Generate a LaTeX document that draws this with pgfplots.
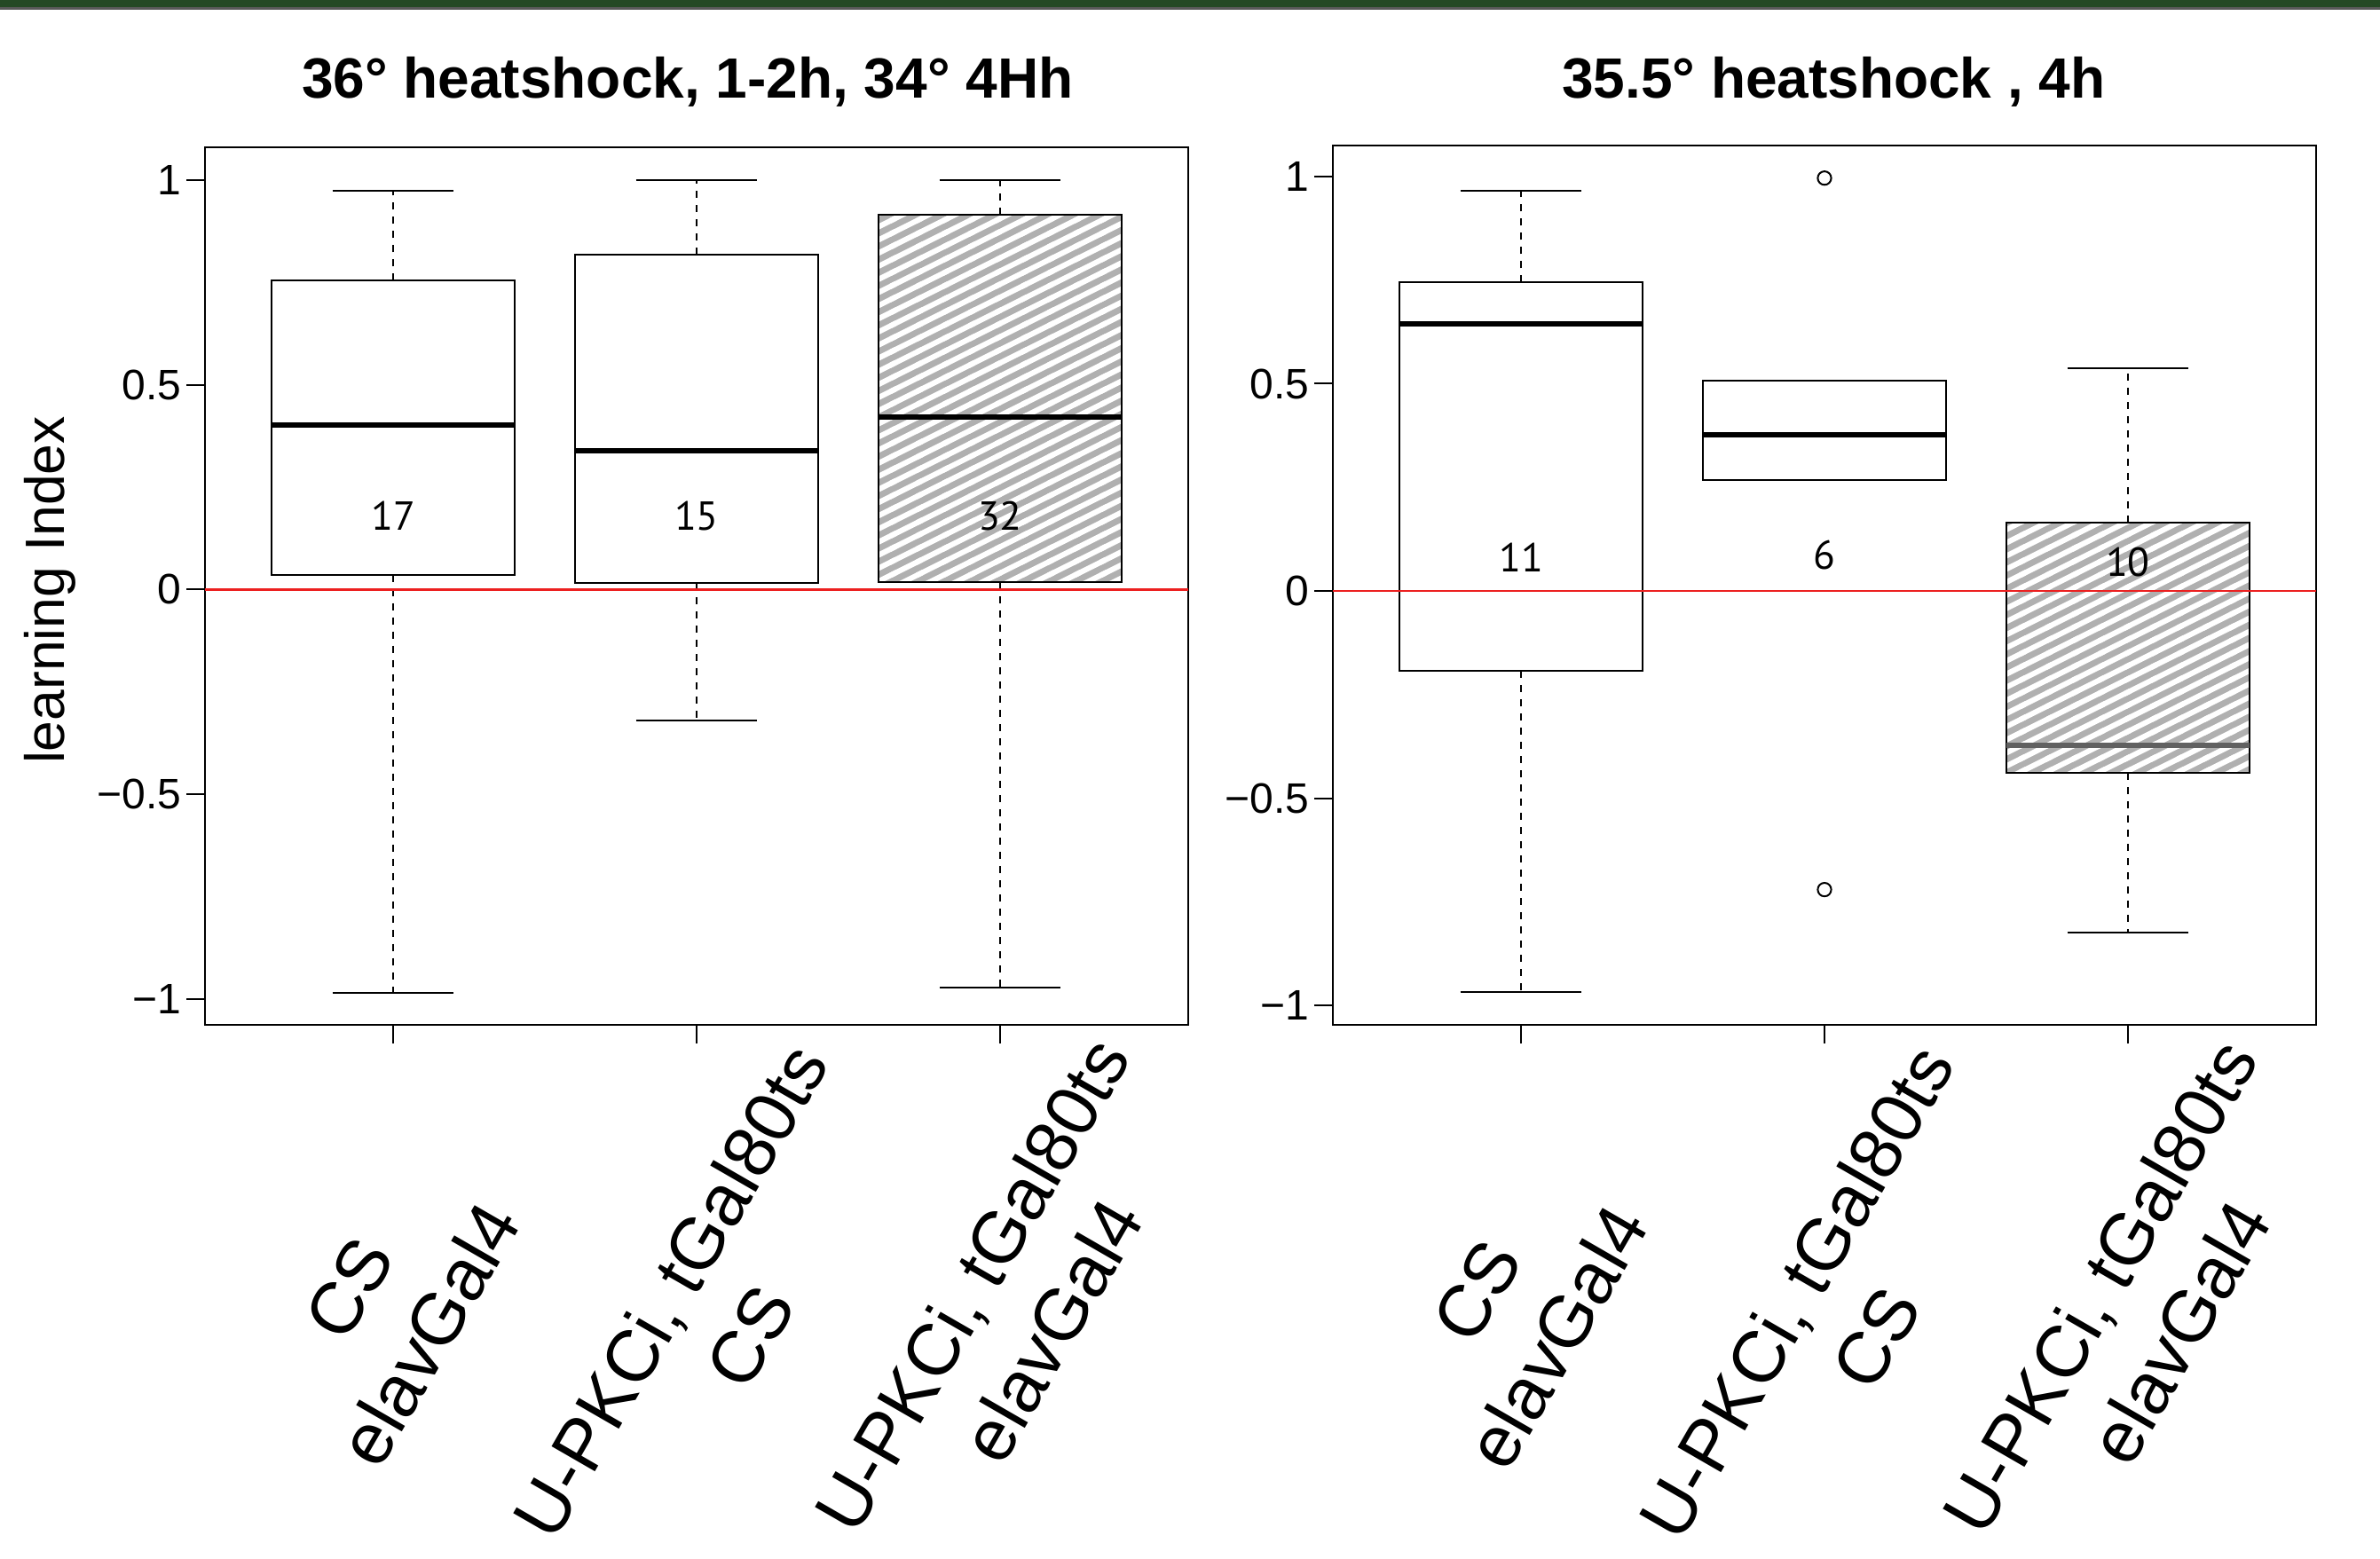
\documentclass[border=0pt]{standalone}
\usepackage{fontspec}
\setmainfont{Liberation Sans}
\newfontfamily\numfont{PT Sans}
\usepackage{pgfplots}
\pgfplotsset{compat=1.18}
\usepgfplotslibrary{statistics}
\usetikzlibrary{patterns}
\definecolor{bandgreen}{RGB}{36,73,36}
\definecolor{bandshadow}{RGB}{90,90,90}
\definecolor{hatchgray}{RGB}{176,176,176}
\definecolor{zeroline}{RGB}{236,32,32}

\pgfdeclarepatternformonly{shallowlines}{\pgfqpoint{-1pt}{-1pt}}{\pgfqpoint{8.4pt}{4.7pt}}{\pgfqpoint{7.4pt}{3.7pt}}{%
  \pgfsetlinewidth{1.5pt}%
  \pgfpathmoveto{\pgfqpoint{-2pt}{-1pt}}%
  \pgfpathlineto{\pgfqpoint{9.4pt}{4.7pt}}%
  \pgfusepath{stroke}%
}

\tikzset{
  xlab/.style={rotate=60, align=center, font=\fontsize{20.5}{26}\selectfont, inner sep=0pt},
  nlab/.style={font=\numfont\fontsize{11.4}{13}\selectfont},
}
\pgfplotsset{
  boxplot/draw/lower whisker/.code={%
    \draw[dash pattern=on 2pt off 2pt] (boxplot cs:\pgfplotsboxplotvalue{lower quartile}) -- (boxplot cs:\pgfplotsboxplotvalue{lower whisker});
    \draw[solid] (boxplot whisker cs:\pgfplotsboxplotvalue{lower whisker},0) -- (boxplot whisker cs:\pgfplotsboxplotvalue{lower whisker},1);
  },
  boxplot/draw/upper whisker/.code={%
    \draw[dash pattern=on 2pt off 2pt] (boxplot cs:\pgfplotsboxplotvalue{upper quartile}) -- (boxplot cs:\pgfplotsboxplotvalue{upper whisker});
    \draw[solid] (boxplot whisker cs:\pgfplotsboxplotvalue{upper whisker},0) -- (boxplot whisker cs:\pgfplotsboxplotvalue{upper whisker},1);
  },
  myaxis/.style={
    scale only axis, width=277pt, anchor=south west,
    xmin=0.38, xmax=3.62,
    xtick={1,2,3}, xticklabels={},
    ytick={-1,-0.5,0,0.5,1}, yticklabels={−1,−0.5,0,0.5,1},
    tick align=outside, tick pos=left, major tick length=5.2pt,
    tick style={black, line width=0.5pt},
    axis line style={line width=0.5pt},
    yticklabel style={font=\fontsize{12}{14}\selectfont, xshift=2pt},
    clip=false,
    boxplot/draw direction=y,
    boxplot/box extend=0.8, boxplot/whisker extend=0.4,
  },
  plainbox/.style={black, line width=0.5pt, mark=o, mark size=1.9pt,
    mark options={solid, line width=0.5pt},
    boxplot/every median/.style={line width=1.5pt}},
  hatchbox/.style={plainbox,
    boxplot/every box/.style={draw=black, preaction={fill=hatchgray},
      pattern=shallowlines, pattern color=white}},
}

\begin{document}
\begin{tikzpicture}
\path[use as bounding box] (0,0) rectangle (670.5pt,439.25pt);
\fill[bandshadow] (0,436.5pt) rectangle (670.5pt,439.25pt);
\fill[bandgreen] (0,437.2pt) rectangle (670.5pt,439.25pt);

\node[font=\bfseries\fontsize{16}{19}\selectfont, anchor=base] at (193.7pt,411.5pt) {36° heatshock, 1-2h, 34° 4Hh};
\node[font=\bfseries\fontsize{16}{19}\selectfont, anchor=base] at (516.6pt,411.5pt) {35.5° heatshock , 4h};
\node[rotate=90, font=\fontsize{15.6}{18}\selectfont] at (14pt,273pt) {learning Index};

% ---------------- left panel ----------------
\begin{axis}[myaxis, at={(57.75pt,150.4pt)}, height=247.25pt, ymin=-1.064, ymax=1.079]
\addplot[plainbox, boxplot prepared={draw position=1, lower whisker=-0.985, lower quartile=0.036,
  median=0.401, upper quartile=0.754, upper whisker=0.973}] coordinates {};
\addplot[plainbox, boxplot prepared={draw position=2, lower whisker=-0.320, lower quartile=0.016,
  median=0.339, upper quartile=0.818, upper whisker=1.0}] coordinates {};
\addplot[hatchbox, boxplot prepared={draw position=3, lower whisker=-0.973, lower quartile=0.018,
  median=0.422, upper quartile=0.916, upper whisker=1.0}] coordinates {};
\addplot[zeroline, line width=0.6pt] coordinates {(0.38,0) (3.62,0)};
\node[nlab] at (axis cs:1,0.18) {17};
\node[nlab] at (axis cs:2,0.18) {15};
\node[nlab] at (axis cs:3,0.18) {32};
\node[xlab] at ([xshift=-1pt,yshift=-80.7pt]axis cs:1,-1.064) {CS\\elavGal4};
\node[xlab] at ([xshift=3.7pt,yshift=-81.2pt]axis cs:2,-1.064) {U-PKCi, tGal80ts\\CS};
\node[xlab] at ([xshift=3.2pt,yshift=-79.5pt]axis cs:3,-1.064) {U-PKCi, tGal80ts\\elavGal4};
\end{axis}

% ---------------- right panel ----------------
\begin{axis}[myaxis, at={(375.5pt,150.4pt)}, height=247.9pt, ymin=-1.047, ymax=1.075]
\addplot[plainbox, boxplot prepared={draw position=1, lower whisker=-0.968, lower quartile=-0.193,
  median=0.644, upper quartile=0.744, upper whisker=0.965}] coordinates {};
\addplot[plainbox, boxplot prepared={draw position=2, lower whisker=0.267, lower quartile=0.267,
  median=0.378, upper quartile=0.508, upper whisker=0.508}] coordinates {(0,0.996) (0,-0.720)};
\addplot[hatchbox, boxplot/every median/.style={line width=1.5pt, black!62},
  boxplot prepared={draw position=3, lower whisker=-0.823, lower quartile=-0.439,
  median=-0.371, upper quartile=0.166, upper whisker=0.537}] coordinates {};
\addplot[zeroline, line width=0.6pt] coordinates {(0.38,0) (3.62,0)};
\node[nlab] at (axis cs:1,0.08) {11};
\node[nlab] at (axis cs:2,0.086) {6};
\node[nlab] at (axis cs:3,0.07) {10};
\node[xlab] at ([xshift=-1pt,yshift=-81.5pt]axis cs:1,-1.047) {CS\\elavGal4};
\node[xlab] at ([xshift=3.2pt,yshift=-81.5pt]axis cs:2,-1.047) {U-PKCi, tGal80ts\\CS};
\node[xlab] at ([xshift=3.2pt,yshift=-80pt]axis cs:3,-1.047) {U-PKCi, tGal80ts\\elavGal4};
\end{axis}
\end{tikzpicture}
\end{document}
